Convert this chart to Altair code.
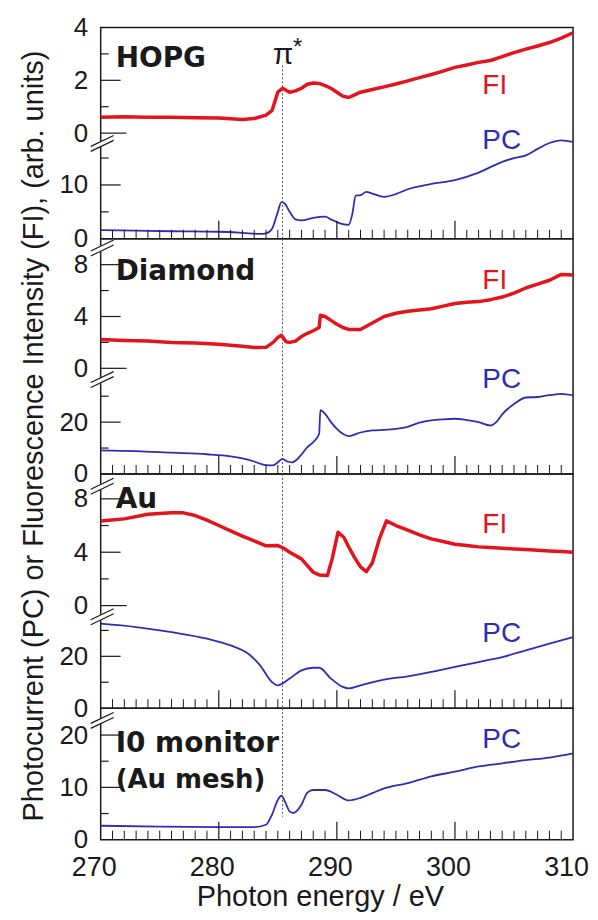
import altair as alt
import pandas as pd

# ---------------- data ----------------
energy_range = [270, 310]
x_labels = [270, 280, 290, 300, 310]
x_minor_ticks = [e for e in range(271, 310) if e % 10 != 0]
x_major_ticks = [280, 290, 300]
pi_star_energy = [285.4]

hopg_fi_e = [270, 272, 274, 276, 278, 280, 282, 283, 284, 284.5, 285, 285.4, 286, 286.5, 287, 287.5,
             288, 288.5, 289, 289.5, 290, 290.5, 291, 291.5, 292, 293, 294, 295, 296, 297, 298, 299,
             300, 301, 302, 303, 304, 305, 306, 307, 308, 309, 310]
hopg_fi_v = [0.60, 0.62, 0.60, 0.60, 0.58, 0.57, 0.52, 0.55, 0.68, 0.85, 1.55, 1.70, 1.55, 1.60, 1.70, 1.85,
             1.90, 1.88, 1.80, 1.70, 1.55, 1.40, 1.35, 1.45, 1.55, 1.65, 1.75, 1.86, 1.98, 2.10, 2.22, 2.35,
             2.49, 2.58, 2.68, 2.75, 2.90, 3.05, 3.18, 3.30, 3.43, 3.60, 3.80]
hopg_pc_e = [270, 273, 276, 280, 282, 283.5, 284, 284.5, 285, 285.3, 285.6, 286, 286.5, 287, 288, 289,
             289.5, 290, 290.5, 291, 291.3, 291.6, 292, 292.5, 293, 294, 295, 296, 298, 300, 302, 304,
             305, 306, 307, 308, 309, 310]
hopg_pc_v = [1.6, 1.5, 1.4, 1.3, 1.1, 0.9, 1.0, 1.8, 5.0, 6.8, 6.5, 5.0, 3.6, 3.4, 3.9, 4.1,
             3.6, 3.1, 2.7, 2.6, 4.5, 8.0, 8.1, 8.7, 8.4, 7.8, 8.3, 9.2, 10.2, 10.9, 12.3, 14.3,
             15.0, 15.5, 16.7, 17.8, 18.3, 18.0]

dia_fi_e = [270, 272, 274, 276, 278, 280, 282, 283, 284, 284.6, 285, 285.3, 285.7, 286, 286.5, 287,
            287.5, 288, 288.5, 288.6, 289, 289.5, 290, 290.5, 291, 292, 293, 294, 295, 296, 297, 298,
            299, 300, 301, 302, 303, 304, 305, 306, 307, 308, 309, 310]
dia_fi_v = [2.22, 2.15, 2.10, 2.00, 1.95, 1.85, 1.70, 1.60, 1.62, 2.00, 2.38, 2.55, 2.05, 2.00, 2.10, 2.45,
            2.70, 2.90, 3.15, 4.10, 4.00, 3.70, 3.40, 3.15, 3.00, 3.00, 3.50, 4.00, 4.25, 4.40, 4.50, 4.60,
            4.80, 5.00, 5.10, 5.15, 5.30, 5.50, 5.80, 6.20, 6.50, 6.80, 7.25, 7.20]
dia_pc_e = [270, 273, 276, 279, 281, 282, 283, 283.5, 284, 284.6, 285, 285.4, 285.8, 286.2, 286.6, 287,
            287.5, 288, 288.5, 288.6, 289, 289.5, 290, 290.5, 291, 292, 293, 294, 295, 296, 297, 298,
            299, 300, 301, 302, 303, 303.5, 304, 305, 306, 307, 308, 309, 310]
dia_pc_v = [9.1, 8.8, 8.2, 7.6, 6.8, 6.0, 4.8, 4.0, 3.4, 3.3, 4.5, 5.8, 4.8, 4.5, 5.5, 7.5,
            10.4, 12.3, 15.5, 24.6, 23.2, 20.0, 17.4, 15.5, 14.6, 16.0, 16.8, 17.0, 17.4, 18.2, 19.8, 20.7,
            21.1, 21.3, 20.8, 20.0, 18.7, 20.0, 23.0, 27.0, 29.5, 29.7, 30.4, 30.9, 30.3]

au_fi_e = [270, 272, 274, 276, 277, 278, 279, 280, 281, 282, 283, 284, 285, 285.5, 286, 287, 287.5,
           288, 288.5, 289.2, 289.6, 290.1, 290.6, 291, 291.5, 292, 292.5, 293, 293.6, 294.2, 295, 296,
           297, 298, 299, 300, 301, 302, 303, 304, 305, 306, 307, 308, 309, 310]
au_fi_v = [6.34, 6.50, 6.84, 6.96, 6.95, 6.75, 6.40, 6.00, 5.60, 5.20, 4.85, 4.48, 4.50, 4.30, 4.00, 3.50, 3.00,
           2.50, 2.30, 2.25, 3.50, 5.50, 5.10, 4.40, 3.60, 2.90, 2.55, 3.20, 5.00, 6.35, 6.00, 5.65,
           5.30, 5.00, 4.80, 4.60, 4.50, 4.40, 4.35, 4.30, 4.25, 4.20, 4.15, 4.10, 4.05, 4.00]
au_pc_e = [270, 273, 276, 279, 281, 282.5, 283.5, 284.5, 285, 286, 287, 288, 288.5, 289.5, 290.5, 291,
           292, 294, 296, 298, 300, 302, 304, 306, 308, 310]
au_pc_v = [32.6, 31.3, 29.3, 26.8, 24.2, 21.0, 16.5, 10.1, 8.8, 11.4, 14.6, 15.6, 15.6, 11.4, 8.2, 7.6,
           8.8, 11.0, 12.3, 14.0, 15.9, 17.8, 19.7, 22.3, 24.9, 27.4]

i0_pc_e = [270, 275, 280, 283, 284, 284.5, 285, 285.3, 285.6, 286, 286.3, 287, 287.5, 288, 289, 290,
           291, 292, 293, 294, 296, 298, 300, 302, 304, 306, 308, 310]
i0_pc_v = [2.67, 2.50, 2.41, 2.40, 2.86, 4.76, 7.60, 8.40, 7.30, 5.40, 5.10, 6.67, 9.00, 9.50, 9.50, 8.60,
           7.50, 8.00, 8.90, 9.80, 10.8, 12.1, 13.0, 14.0, 14.6, 15.2, 15.7, 16.5]

sample_names = ["HOPG", "Diamond", "Au", "I0 monitor", "(Au mesh)"]
series_names = ["FI", "PC"]
y_title = "Photocurrent (PC) or Fluorescence Intensity (FI), (arb. units)"
x_title = "Photon energy / eV"

# ---------------- style ----------------
FONT = "Liberation Sans"
BOLD = "DejaVu Sans"
RED = "#e3141b"
BLUE = "#2e2eb4"
INK = "#1a1a1a"
W = 474

one = pd.DataFrame({"k": [0]})
XS = alt.Scale(domain=energy_range, nice=False, zero=False)


def ys(dom):
    return alt.Scale(domain=dom, nice=False, zero=False)


def yaxis(vals):
    return alt.Axis(values=vals, orient="left", ticks=False, tickSize=0, domain=False, grid=False,
                    labelFont=FONT, labelFontSize=26, labelColor=INK, labelPadding=13,
                    labelOverlap=False, labelFlush=False, format="d", title=None)


def series(e, v, dom, color, width, vals, interp="linear", xaxis=None):
    df = pd.DataFrame({"e": e, "v": v})
    return alt.Chart(df).mark_line(color=color, strokeWidth=width, interpolate=interp,
                                   strokeJoin="round").encode(
        x=alt.X("e:Q", scale=XS, axis=xaxis),
        y=alt.Y("v:Q", scale=ys(dom), axis=yaxis(vals)))


def yticks(vals, dom, length):
    df = pd.DataFrame({"t": vals})
    return alt.Chart(df).mark_rule(color=INK, strokeWidth=1.2).encode(
        y=alt.Y("t:Q", scale=ys(dom), axis=None), x=alt.value(0), x2=alt.value(length))


def xticks(h, xaxis=None):
    minor = alt.Chart(pd.DataFrame({"e": x_minor_ticks})).mark_rule(color=INK, strokeWidth=1).encode(
        x=alt.X("e:Q", scale=XS, axis=xaxis), y=alt.value(h), y2=alt.value(h - 9))
    major = alt.Chart(pd.DataFrame({"e": x_major_ticks})).mark_rule(color=INK, strokeWidth=1.2).encode(
        x=alt.X("e:Q", scale=XS, axis=xaxis), y=alt.value(h), y2=alt.value(h - 18))
    return [minor, major]


def pi_line(y0, y1, xaxis=None):
    return alt.Chart(pd.DataFrame({"e": pi_star_energy})).mark_rule(
        color="#555", strokeDash=[2, 2], strokeWidth=1).encode(
        x=alt.X("e:Q", scale=XS, axis=xaxis), y=alt.value(y0), y2=alt.value(y1))


def txt(s, x, y, size, color=INK, weight="normal", font=FONT, angle=0, align="left"):
    return alt.Chart(one).mark_text(text=s, font=font, fontSize=size, fontWeight=weight, color=color,
                                    align=align, baseline="alphabetic", angle=angle).encode(
        x=alt.value(x), y=alt.value(y))


def brk(c):
    gap = alt.Chart(one).mark_rule(color="white", strokeWidth=4).encode(
        x=alt.value(0), x2=alt.value(0), y=alt.value(c - 3), y2=alt.value(c + 3))
    a = alt.Chart(one).mark_rule(color=INK, strokeWidth=1.2).encode(
        x=alt.value(-10), x2=alt.value(13), y=alt.value(c - 2.5 + 4.8), y2=alt.value(c - 2.5 - 6.2))
    b = alt.Chart(one).mark_rule(color=INK, strokeWidth=1.2).encode(
        x=alt.value(-10), x2=alt.value(13), y=alt.value(c + 2.5 + 4.8), y2=alt.value(c + 2.5 - 6.2))
    return [gap, a, b]


def panel(h, layers):
    return alt.layer(*layers).properties(width=W, height=h).resolve_scale(y="independent")


# ---- panel 1: HOPG ----
h1 = 212
fi1 = [-4.0, 4.0]
pc1 = [0, h1 / 5.4]
p1 = panel(h1, [
    pi_line(38, h1),
    series(hopg_fi_e, hopg_fi_v, fi1, RED, 3.5, [0, 2, 4]),
    series(hopg_pc_e, hopg_pc_v, pc1, BLUE, 1.8, [0, 10], "monotone"),
    yticks([0], fi1, 26), yticks([2], fi1, 20), yticks([1, 3], fi1, 8),
    yticks([10], pc1, 20), yticks([5, 15], pc1, 8),
    *xticks(h1), *brk(117),
    txt(sample_names[0], 15, 40, 28, weight="bold", font=BOLD),
    txt("π", 183, 37, 30, align="center"), txt("*", 193, 28, 24),
    txt(series_names[0], 383, 67, 28, color=RED), txt(series_names[1], 383, 122, 28, color=BLUE),
])

# ---- panel 2: Diamond ----
h2 = 236
fi2 = [-106 / 13, 10]
pc2 = [0, h2 / 2.6]
p2 = panel(h2, [
    pi_line(0, h2),
    series(dia_fi_e, dia_fi_v, fi2, RED, 3.5, [0, 4, 8]),
    series(dia_pc_e, dia_pc_v, pc2, BLUE, 1.8, [0, 20], "monotone"),
    yticks([0], fi2, 26), yticks([4, 8], fi2, 20), yticks([2, 6], fi2, 8),
    yticks([20], pc2, 20), yticks([10, 30], pc2, 8),
    *xticks(h2), *brk(10), *brk(142),
    txt(sample_names[1], 15, 41, 28, weight="bold", font=BOLD),
    txt(series_names[0], 383, 50, 28, color=RED), txt(series_names[1], 383, 150, 28, color=BLUE),
    txt(y_title, -58, 198, 29, angle=270, align="center"),
])

# ---- panel 3: Au ----
h3 = 235
fi3 = [-103 / 13.4, 8 + 25 / 13.4]
pc3 = [0, h3 / 2.6]
p3 = panel(h3, [
    pi_line(0, h3),
    series(au_fi_e, au_fi_v, fi3, RED, 3.5, [0, 4, 8]),
    series(au_pc_e, au_pc_v, pc3, BLUE, 1.8, [0, 20], "monotone"),
    yticks([0], fi3, 26), yticks([4, 8], fi3, 20), yticks([2, 6], fi3, 8),
    yticks([20], pc3, 20), yticks([10, 30], pc3, 8),
    *xticks(h3), *brk(13), *brk(144),
    txt(sample_names[2], 15, 34, 28, weight="bold", font=BOLD),
    txt(series_names[0], 383, 59, 28, color=RED), txt(series_names[1], 383, 169, 28, color=BLUE),
])

# ---- panel 4: I0 monitor ----
h4 = 132
pc4 = [0, h4 / 5.25]
xaxis4 = alt.Axis(values=x_labels, ticks=False, tickSize=0, domain=False, grid=False,
                  labelFont=FONT, labelFontSize=27, labelColor=INK, labelPadding=15, labelOffset=-7,
                  labelFlush=False, format="d", title=x_title, titleFont=FONT, titleFontSize=29,
                  titleFontWeight="normal", titleColor=INK, titleX=220, titleY=66,
                  titleBaseline="alphabetic", titleAlign="center")
p4 = panel(h4, [
    series(i0_pc_e, i0_pc_v, pc4, BLUE, 1.8, [0, 10, 20], "monotone", xaxis=xaxis4),
    pi_line(0, 109, xaxis=xaxis4),
    yticks([10, 20], pc4, 20), yticks([5, 15], pc4, 8),
    *xticks(h4, xaxis=xaxis4), *brk(13),
    txt(sample_names[3], 15, 44, 28, weight="bold", font=BOLD),
    txt(sample_names[4], 15, 80, 26, weight="bold", font=BOLD),
    txt(series_names[1], 383, 40, 28, color=BLUE),
])

chart = alt.vconcat(p1, p2, p3, p4, spacing=0, bounds="flush").configure_view(
    stroke=INK, strokeWidth=1.5).properties(
    padding={"left": 11, "top": 4, "right": 0, "bottom": 0}, background="white")

chart.save("out.html", embed_options={"renderer": "svg", "actions": False})
